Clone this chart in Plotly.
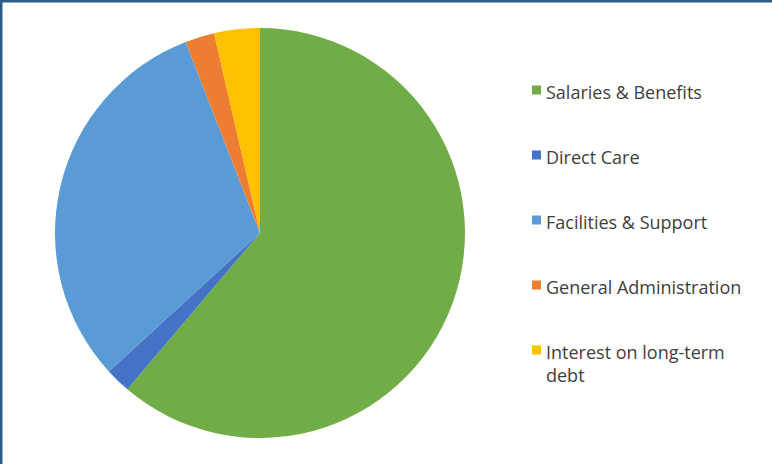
import plotly.graph_objects as go

categories = ["Salaries & Benefits", "Direct Care", "Facilities & Support",
              "General Administration", "Interest on long-term<br>debt"]
values = [61.2, 2.0, 30.9, 2.3, 3.6]
colors = ["#70AD47", "#4472C4", "#5B9BD5", "#ED7D31", "#FFC000"]

W, H = 772, 464
fig = go.Figure()
fig.add_trace(go.Pie(
    labels=categories, values=values, sort=False, direction="clockwise",
    rotation=0, marker=dict(colors=colors, line=dict(width=0)),
    textinfo="none", showlegend=False, hoverinfo="label+percent",
    domain=dict(x=[55 / W, 465 / W], y=[(H - 438) / H, (H - 28) / H]),
))

shapes = []
annotations = []
leg_x0 = 532
leg_y0 = 90
step = 65
fs = 18
for i, (lab, col) in enumerate(zip(categories, colors)):
    yc = leg_y0 + i * step
    shapes.append(dict(type="rect", xref="paper", yref="paper",
                       x0=leg_x0 / W, x1=(leg_x0 + 9) / W,
                       y0=1 - (yc + 4.5) / H, y1=1 - (yc - 4.5) / H,
                       fillcolor=col, line=dict(width=0)))
    annotations.append(dict(xref="paper", yref="paper", x=(leg_x0 + 12) / W,
                            y=1 - (yc - 12) / H, xanchor="left", yanchor="top",
                            text=lab, showarrow=False, align="left",
                            font=dict(family="Open Sans", size=fs, color="#404040")))

# frame edges (top and left)
shapes.append(dict(type="line", xref="paper", yref="paper", x0=1 / W, x1=1 / W,
                   y0=0, y1=1, line=dict(color="#2F5B86", width=3)))
shapes.append(dict(type="line", xref="paper", yref="paper", x0=0, x1=1,
                   y0=1 - 1 / H, y1=1 - 1 / H, line=dict(color="#2F5B86", width=3)))

fig.update_layout(width=W, height=H, margin=dict(l=0, r=0, t=0, b=0),
                  paper_bgcolor="white", plot_bgcolor="white",
                  shapes=shapes, annotations=annotations, showlegend=False)
fig.write_html("out.html")
